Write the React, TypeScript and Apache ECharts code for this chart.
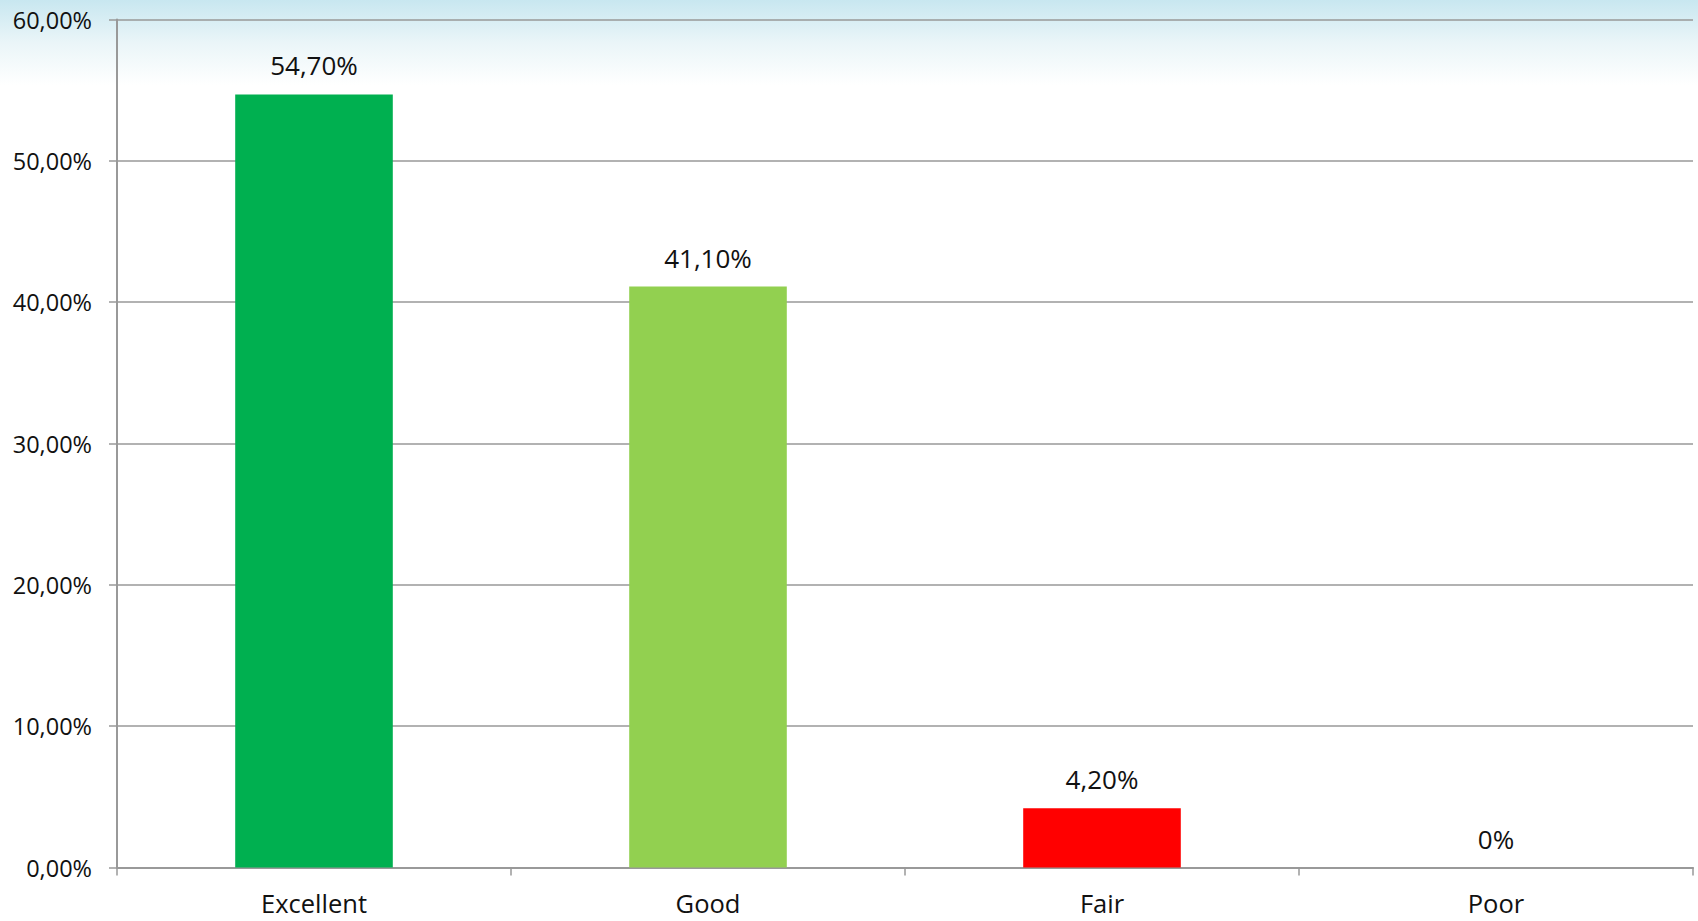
import React, { useEffect, useRef } from "react";
import * as echarts from "echarts";

const categories = ["Excellent", "Good", "Fair", "Poor"];
const values = [54.7, 41.1, 4.2, 0];
const valueLabels = ["54,70%", "41,10%", "4,20%", "0%"];
const barColors = ["#00B050", "#92D050", "#FF0000", "#A0A0A0"];
const yTicks = [0, 10, 20, 30, 40, 50, 60];
const yTickLabels = ["0,00%", "10,00%", "20,00%", "30,00%", "40,00%", "50,00%", "60,00%"];

const FONT = "'Open Sans', 'Noto Sans', sans-serif";

export default function App() {
  const ref = useRef<HTMLDivElement>(null);
  useEffect(() => {
    document.body.style.margin = "0";
    const chart = echarts.init(ref.current!, undefined, { renderer: "svg" });
    chart.setOption({
      animation: false,
      backgroundColor: "#ffffff",
      graphic: [
        {
          type: "rect",
          left: 0,
          top: 0,
          z: -10,
          silent: true,
          shape: { width: 1698, height: 85 },
          style: {
            fill: new echarts.graphic.LinearGradient(0, 0, 0, 1, [
              { offset: 0, color: "#c8e7f0" },
              { offset: 0.5, color: "#eaf5f8" },
              { offset: 1, color: "#ffffff" },
            ]),
          },
        },
      ],
      grid: { left: 117, right: 5, top: 19.5, bottom: 53.5, containLabel: false },
      xAxis: {
        type: "category",
        data: categories,
        axisLine: { show: true, lineStyle: { color: "#999999", width: 2 } },
        axisTick: { show: true, alignWithLabel: false, length: 8, lineStyle: { color: "#999999", width: 1.5 } },
        axisLabel: { color: "#111", fontSize: 25.5, fontFamily: FONT, margin: 22 },
        splitLine: { show: false },
      },
      yAxis: {
        type: "value",
        min: 0,
        max: 60,
        interval: 10,
        axisLine: { show: true, lineStyle: { color: "#999999", width: 2 } },
        axisTick: { show: true, length: 8, lineStyle: { color: "#999999", width: 1.5 } },
        axisLabel: {
          color: "#111",
          fontSize: 23.5,
          fontFamily: FONT,
          margin: 25,
          formatter: (v: number) => {
            const i = yTicks.indexOf(v);
            return i >= 0 ? yTickLabels[i] : "";
          },
        },
        splitLine: { show: true, lineStyle: { color: "#999999", width: 1.5 } },
      },
      series: [
        {
          type: "bar",
          barCategoryGap: "60%",
          data: values.map((v, i) => ({ value: v, itemStyle: { color: barColors[i] } })),
          label: {
            show: true,
            position: "top",
            distance: 16,
            color: "#111",
            fontSize: 26,
            fontFamily: FONT,
            formatter: (p: any) => valueLabels[p.dataIndex],
          },
        },
      ],
    });
    return () => chart.dispose();
  }, []);
  return <div ref={ref} style={{ width: 1698, height: 921 }} />;
}
